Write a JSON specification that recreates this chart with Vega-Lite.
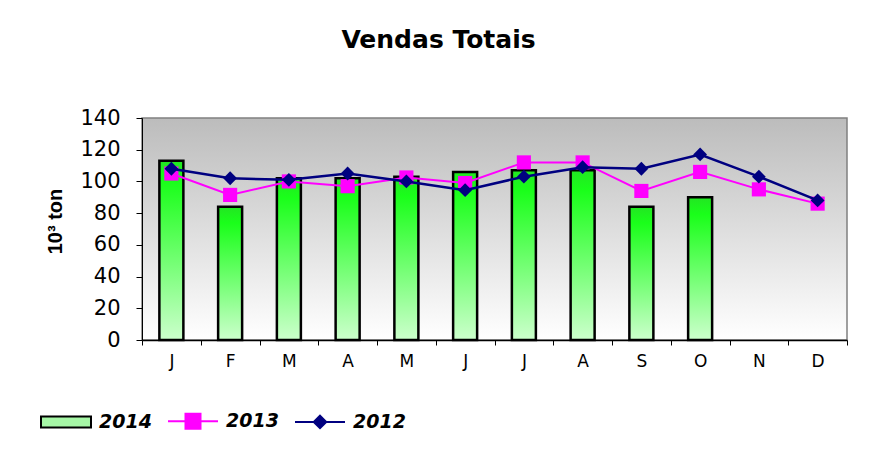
{
  "$schema": "https://vega.github.io/schema/vega-lite/v6.json",
  "width": 705,
  "height": 222,
  "autosize": {"type": "none"},
  "padding": {"left": 142, "top": 118, "right": 32, "bottom": 126},
  "background": "white",
  "title": {
    "text": "Vendas Totais",
    "font": "DejaVu Sans",
    "fontSize": 25,
    "fontWeight": "bold",
    "color": "black",
    "anchor": "middle",
    "dx": -56,
    "baseline": "alphabetic",
    "offset": 34
  },
  "config": {
    "view": {
      "fill": {
        "gradient": "linear",
        "x1": 0, "y1": 0, "x2": 0, "y2": 1,
        "stops": [
          {"offset": 0, "color": "#bcbcbc"},
          {"offset": 1, "color": "#ffffff"}
        ]
      },
      "stroke": "#808080",
      "strokeWidth": 1.5
    },
    "axis": {"domainColor": "black", "tickColor": "black", "labelColor": "black", "titleColor": "black", "grid": false}
  },
  "data": {
    "values": [
      {"m": "Jan", "series": "2014", "value": 113},
      {"m": "Fev", "series": "2014", "value": 84},
      {"m": "Mar", "series": "2014", "value": 102},
      {"m": "Abr", "series": "2014", "value": 102},
      {"m": "Mai", "series": "2014", "value": 103},
      {"m": "Jun", "series": "2014", "value": 106},
      {"m": "Jul", "series": "2014", "value": 107},
      {"m": "Ago", "series": "2014", "value": 107},
      {"m": "Set", "series": "2014", "value": 84},
      {"m": "Out", "series": "2014", "value": 90},
      {"m": "Jan", "series": "2013", "value": 105},
      {"m": "Fev", "series": "2013", "value": 91.5},
      {"m": "Mar", "series": "2013", "value": 100},
      {"m": "Abr", "series": "2013", "value": 97},
      {"m": "Mai", "series": "2013", "value": 102.5},
      {"m": "Jun", "series": "2013", "value": 99},
      {"m": "Jul", "series": "2013", "value": 112},
      {"m": "Ago", "series": "2013", "value": 112},
      {"m": "Set", "series": "2013", "value": 94},
      {"m": "Out", "series": "2013", "value": 106},
      {"m": "Nov", "series": "2013", "value": 95},
      {"m": "Dez", "series": "2013", "value": 86},
      {"m": "Jan", "series": "2012", "value": 108},
      {"m": "Fev", "series": "2012", "value": 102},
      {"m": "Mar", "series": "2012", "value": 101},
      {"m": "Abr", "series": "2012", "value": 105},
      {"m": "Mai", "series": "2012", "value": 100},
      {"m": "Jun", "series": "2012", "value": 94.5},
      {"m": "Jul", "series": "2012", "value": 103},
      {"m": "Ago", "series": "2012", "value": 109},
      {"m": "Set", "series": "2012", "value": 108},
      {"m": "Out", "series": "2012", "value": 117},
      {"m": "Nov", "series": "2012", "value": 103},
      {"m": "Dez", "series": "2012", "value": 88}
    ]
  },
  "encoding": {
    "x": {
      "field": "m",
      "type": "nominal",
      "scale": {
        "domain": ["Jan", "Fev", "Mar", "Abr", "Mai", "Jun", "Jul", "Ago", "Set", "Out", "Nov", "Dez"],
        "paddingInner": 0,
        "paddingOuter": 0
      },
      "axis": {
        "title": null,
        "labelExpr": "substring(datum.label, 0, 1)",
        "labelFont": "DejaVu Sans",
        "labelFontSize": 17,
        "labelAngle": 0,
        "tickBand": "extent",
        "tickSize": 5,
        "labelPadding": 8,
        "domainWidth": 1.5
      }
    },
    "y": {
      "field": "value",
      "type": "quantitative",
      "scale": {"domain": [0, 140], "nice": false},
      "axis": {
        "values": [0, 20, 40, 60, 80, 100, 120, 140],
        "tickCount": 8,
        "labelOverlap": false,
        "labelBound": false,
        "title": "10³ ton",
        "titleFont": "Liberation Sans",
        "titleFontSize": 20,
        "titleFontWeight": "bold",
        "titlePadding": 14,
        "titleY": 103,
        "labelFont": "DejaVu Sans",
        "labelFontSize": 21,
        "tickSize": 6,
        "labelPadding": 16
      }
    }
  },
  "layer": [
    {
      "transform": [{"filter": "datum.series === '2014'"}],
      "mark": {
        "type": "bar",
        "size": 24,
        "color": {
          "gradient": "linear",
          "x1": 0, "y1": 0, "x2": 0, "y2": 1,
          "stops": [
            {"offset": 0, "color": "#22e622"},
            {"offset": 0.12, "color": "#1aff1a"},
            {"offset": 1, "color": "#ccffcc"}
          ]
        },
        "stroke": "black",
        "strokeWidth": 2.5
      }
    },
    {
      "transform": [{"filter": "datum.series === '2013'"}],
      "mark": {"type": "line", "color": "#ff00ff", "strokeWidth": 2}
    },
    {
      "transform": [{"filter": "datum.series === '2013'"}],
      "mark": {"type": "point", "shape": "square", "filled": true, "size": 200, "color": "#ff00ff", "opacity": 1}
    },
    {
      "transform": [{"filter": "datum.series === '2012'"}],
      "mark": {"type": "line", "color": "#000080", "strokeWidth": 2.5}
    },
    {
      "transform": [{"filter": "datum.series === '2012'"}],
      "mark": {"type": "point", "shape": "diamond", "filled": true, "size": 190, "color": "#000080", "opacity": 1}
    },
    {
      "mark": {"type": "point", "filled": true, "opacity": 0},
      "encoding": {
        "color": {
          "field": "series",
          "type": "nominal",
          "scale": {"domain": ["2014", "2013", "2012"], "range": ["#a6f7a6", "#ff00ff", "#000080"]},
          "legend": {
            "title": null,
            "orient": "none",
            "legendX": -102,
            "legendY": 277,
            "direction": "horizontal",
            "symbolSize": 2500,
            "symbolStrokeWidth": 2,
            "labelFont": "DejaVu Sans",
            "labelFontSize": 19,
            "labelFontWeight": "bold",
            "labelFontStyle": "italic",
            "labelColor": "black",
            "labelOffset": 7,
            "columnPadding": 12,
            "encode": {
              "symbols": {
                "update": {
                  "stroke": {"signal": "datum.value === '2014' ? 'black' : (datum.value === '2013' ? '#ff00ff' : '#000080')"},
                  "strokeWidth": {"value": 2},
                  "opacity": {"value": 1},
                  "fillOpacity": {"value": 1},
                  "strokeOpacity": {"value": 1}
                }
              }
            }
          }
        },
        "shape": {
          "field": "series",
          "type": "nominal",
          "scale": {
            "domain": ["2014", "2013", "2012"],
            "range": [
              "M-1,-0.22H1V0.22H-1Z",
              "M-1,0H1M-0.3,-0.3H0.3V0.3H-0.3Z",
              "M-1,0H1M0,-0.25L0.25,0L0,0.25L-0.25,0Z"
            ]
          },
          "legend": {
            "title": null,
            "orient": "none",
            "legendX": -102,
            "legendY": 277,
            "direction": "horizontal",
            "symbolSize": 2500,
            "symbolStrokeWidth": 2,
            "labelFont": "DejaVu Sans",
            "labelFontSize": 19,
            "labelFontWeight": "bold",
            "labelFontStyle": "italic",
            "labelColor": "black",
            "labelOffset": 7,
            "columnPadding": 12,
            "encode": {
              "symbols": {
                "update": {
                  "stroke": {"signal": "datum.value === '2014' ? 'black' : (datum.value === '2013' ? '#ff00ff' : '#000080')"},
                  "strokeWidth": {"value": 2},
                  "opacity": {"value": 1},
                  "fillOpacity": {"value": 1},
                  "strokeOpacity": {"value": 1}
                }
              }
            }
          }
        }
      }
    }
  ]
}
